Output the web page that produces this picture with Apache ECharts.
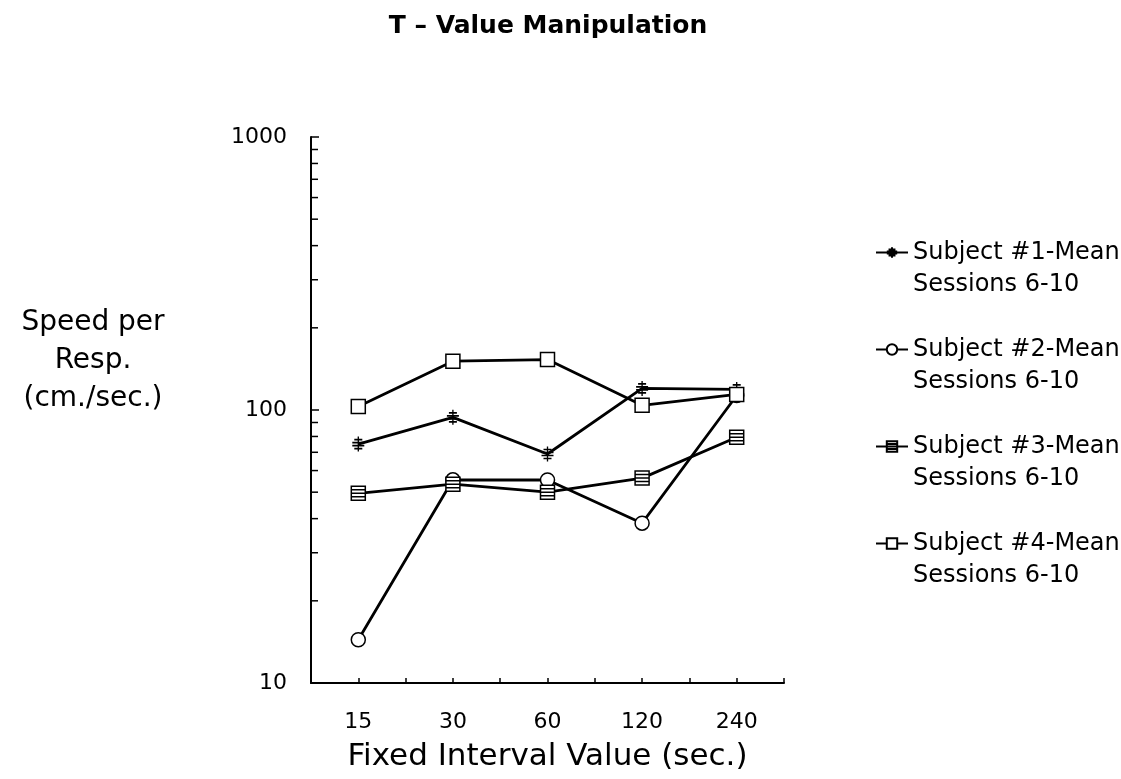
<!DOCTYPE html>
<html>
<head>
<meta charset="utf-8">
<script src="https://cdn.jsdelivr.net/npm/echarts@6/dist/echarts.min.js"></script>
<style>
html,body{margin:0;padding:0;background:#fff;}
#c{width:1121px;height:779px;}
</style>
</head>
<body>
<div id="c"></div>
<script>
const categories = ['15', '30', '60', '120', '240'];
const subject1 = [75, 94, 69, 120, 119];
const subject2 = [14.4, 55.5, 55.4, 38.5, 113];
const subject3 = [49.5, 53.5, 50, 56.3, 79.5];
const subject4 = [103, 151, 153, 104, 114];
const seriesNames = ['Subject #1-Mean', 'Subject #2-Mean', 'Subject #3-Mean', 'Subject #4-Mean'];
const legendSub = 'Sessions 6-10';
const yMinorTicks = [20, 30, 40, 50, 60, 70, 80, 90, 200, 300, 400, 500, 600, 700, 800, 900];

const FONT = '"DejaVu Sans", sans-serif';
const symbols = [
  'path://M6,0 V15 M2,3 H10 M0,6 H12 M0,9 H12 M2,12 H10',
  'circle',
  'path://M0,0 H12 V12 H0 Z M0,3 H12 M0,6 H12 M0,9 H12',
  'rect'
];
const symbolSizes = [[12, 15], 14, 14, 14];
const allData = [subject1, subject2, subject3, subject4];

const chart = echarts.init(document.getElementById('c'));
const series = allData.map((arr, i) => ({
  name: seriesNames[i],
  type: 'line',
  data: arr.map((v, j) => [j, v]),
  symbol: symbols[i],
  symbolSize: symbolSizes[i],
  showSymbol: true,
  lineStyle: {color: '#000', width: 2.8},
  itemStyle: {color: '#fff', borderColor: '#000', borderWidth: 1.5},
  z: 3 + i
}));
series.push({
  type: 'custom',
  silent: true,
  coordinateSystem: 'cartesian2d',
  data: yMinorTicks.map(v => [-0.5, v]),
  renderItem: function (params, api) {
    const p = api.coord([api.value(0), api.value(1)]);
    return {type: 'line', shape: {x1: p[0], y1: p[1], x2: p[0] + 7, y2: p[1]},
            style: {stroke: '#000', lineWidth: 1.5}};
  },
  clip: false,
  z: 2
});

const subTexts = seriesNames.map((n, i) => ({
  type: 'text', x: 913, y: 285 + i * 97,
  style: {text: legendSub, fontFamily: FONT, fontSize: 24, fill: '#000',
          textVerticalAlign: 'middle'}
}));

chart.setOption({
  animation: false,
  backgroundColor: '#fff',
  title: {
    text: 'T \u2013 Value Manipulation',
    left: 543, textAlign: 'center', top: 9,
    textStyle: {fontFamily: FONT, fontSize: 25, fontWeight: 'bold', color: '#000'}
  },
  grid: {left: 311, right: 337, top: 137, bottom: 96, containLabel: false},
  legend: {
    data: seriesNames,
    orient: 'vertical',
    left: 870, top: 231,
    itemWidth: 32, itemHeight: 13, itemGap: 64,
    textStyle: {fontFamily: FONT, fontSize: 24, lineHeight: 33, color: '#000'},
    selectedMode: false
  },
  xAxis: {
    type: 'value', min: -0.5, max: 4.5, interval: 0.5,
    name: 'Fixed Interval Value (sec.)',
    nameLocation: 'middle', nameGap: 58,
    nameTextStyle: {fontFamily: FONT, fontSize: 31, color: '#000'},
    axisLine: {onZero: false, lineStyle: {color: '#000', width: 2}},
    axisTick: {inside: true, length: 5, lineStyle: {color: '#000', width: 1.5}},
    splitLine: {show: false},
    axisLabel: {
      margin: 28,
      fontFamily: FONT, fontSize: 22, color: '#000',
      formatter: v => (Number.isInteger(v) && v >= 0 && v < categories.length) ? categories[v] : ''
    }
  },
  yAxis: {
    type: 'log', logBase: 10, min: 10, max: 1000,
    axisLine: {show: true, onZero: false, lineStyle: {color: '#000', width: 2}},
    axisTick: {show: true, inside: true, length: 8, lineStyle: {color: '#000', width: 1.5}},
    splitLine: {show: false},
    axisLabel: {margin: 24, fontFamily: FONT, fontSize: 22, color: '#000',
                formatter: v => String(v)}
  },
  graphic: [{
    type: 'text', x: 93, y: 304,
    style: {text: 'Speed per\nResp.\n(cm./sec.)', fontFamily: FONT, fontSize: 28, lineHeight: 38,
            fill: '#000', textAlign: 'center', textVerticalAlign: 'top'}
  }].concat(subTexts),
  series: series
});
</script>
</body>
</html>
